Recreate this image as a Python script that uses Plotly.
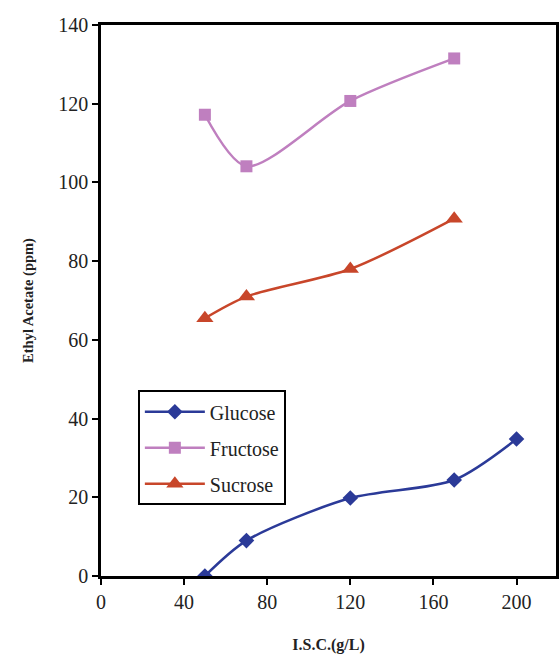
import plotly.graph_objects as go

x_glucose = [50, 70, 120, 170, 200]
y_glucose = [0, 9, 19.8, 24.4, 34.8]
x_fructose = [50, 70, 120, 170]
y_fructose = [117.2, 104.1, 120.7, 131.5]
x_sucrose = [50, 70, 120, 170]
y_sucrose = [65.5, 71, 78, 90.8]

x_ticks = [0, 40, 80, 120, 160, 200]
y_ticks = [0, 20, 40, 60, 80, 100, 120, 140]

serif = "Liberation Serif, Times New Roman, serif"

fig = go.Figure()
fig.add_trace(go.Scatter(x=x_glucose, y=y_glucose, name="Glucose", mode="lines+markers", legendgroup="g",
                         line=dict(color="#2B3A98", width=2.5, shape="spline", smoothing=0.8),
                         marker=dict(symbol="diamond", size=12, color="#2B3A98")))
fig.add_trace(go.Scatter(x=x_fructose, y=y_fructose, name="Fructose", mode="lines+markers", legendgroup="f",
                         line=dict(color="#BF7FBF", width=2.5, shape="spline", smoothing=0.8),
                         marker=dict(symbol="square", size=12, color="#BF7FBF")))
fig.add_trace(go.Scatter(x=x_sucrose, y=y_sucrose, name="Sucrose", mode="lines+markers", legendgroup="s",
                         line=dict(color="#C8462A", width=2.5, shape="spline", smoothing=0.8),
                         marker=dict(symbol="triangle-up", size=15, color="#C8462A")))

fig.update_layout(
    width=560, height=656,
    margin=dict(l=101, r=1, t=25, b=80),
    plot_bgcolor="white", paper_bgcolor="white",
    font=dict(family=serif, size=20, color="#222"),
    legend=dict(x=0.081, y=0.337, xanchor="left", yanchor="top",
                bordercolor="black", borderwidth=2, bgcolor="white",
                font=dict(family=serif, size=20, color="#222"),
                itemwidth=60, tracegroupgap=7, traceorder="grouped"),
    xaxis=dict(range=[0, 219], tickvals=x_ticks, showline=True, linecolor="black", linewidth=2.5,
               mirror=True, ticks="outside", ticklen=6, tickwidth=2, tickcolor="black",
               showgrid=False, zeroline=False, tickfont=dict(size=20),
               title=dict(text="<b>I.S.C.(g/L)</b>", font=dict(family=serif, size=16, color="#222"), standoff=28)),
    yaxis=dict(range=[0, 140], tickvals=y_ticks, showline=True, linecolor="black", linewidth=2.5,
               mirror=True, ticks="outside", ticklen=6, tickwidth=2, tickcolor="black",
               showgrid=False, zeroline=False, tickfont=dict(size=20),
               title=dict(text="<b>Ethyl Acetate (ppm)</b>", font=dict(family=serif, size=14.5, color="#222"), standoff=22)),
)

fig.write_html("out.html")
